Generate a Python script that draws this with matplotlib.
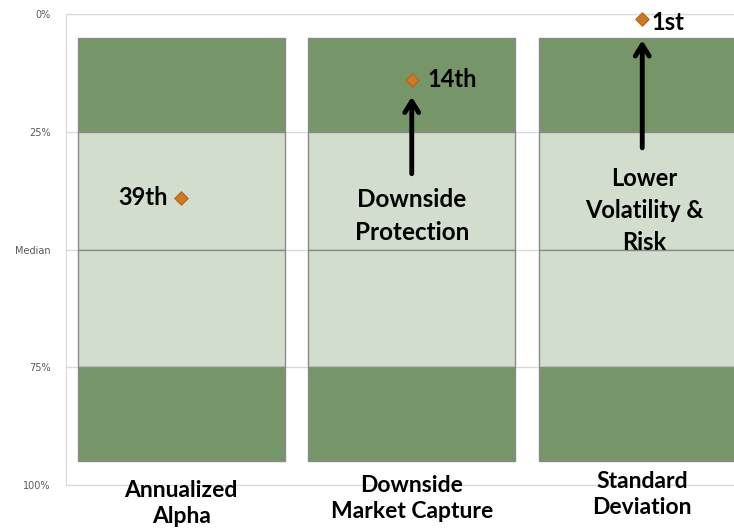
import matplotlib.pyplot as plt
import numpy as np

# data
categories = ["Annualized\nAlpha", "Downside\nMarket Capture", "Standard\nDeviation"]
band_edges = [5, 25, 50, 75, 95]          # percentile band boundaries
band_colors = ["#76966a", "#d2ddcd", "#d2ddcd", "#76966a"]
rank_values = [39, 14, 1]
rank_labels = ["39th", "14th", "1st"]
tick_pos = [0, 25, 50, 75, 100]
tick_labels = ["0%", "25%", "Median", "75%", "100%"]

plt.rcParams['font.family'] = ['Lato', 'DejaVu Sans']

fig = plt.figure(figsize=(7.34, 5.28), dpi=100)
ax = fig.add_axes([66 / 734, 43 / 528, 691.5 / 734, 471 / 528])

x = np.arange(len(categories))
for i in range(len(band_edges) - 1):
    ax.bar(x, band_edges[i + 1] - band_edges[i], bottom=band_edges[i], width=0.9,
           color=band_colors[i], edgecolor="#8a8a8a", linewidth=1, zorder=2)

ax.set_xlim(-0.5, 2.5)
ax.set_ylim(100, 0)
ax.set_yticks(tick_pos)
ax.set_yticklabels(tick_labels, fontsize=7, color="#595959", family="DejaVu Sans")
ax.tick_params(axis="y", length=0, pad=11)
ax.set_xticks([])
ax.yaxis.grid(True, color="#d9d9d9", linewidth=1, zorder=0)
for s in ["left", "top"]:
    ax.spines[s].set_color("#d9d9d9")
ax.spines["right"].set_visible(False)
ax.spines["bottom"].set_color("#d9d9d9")

# markers
ax.scatter(x, rank_values, marker="D", s=45, color="#c97b2a", edgecolor="#b86a20",
           zorder=5, clip_on=False)
ax.text(x[0] - 0.06, rank_values[0], rank_labels[0], ha="right", va="center",
        fontsize=17, fontweight="bold")
ax.text(x[1] + 0.07, rank_values[1], rank_labels[1], ha="left", va="center",
        fontsize=17, fontweight="bold")
ax.text(x[2] + 0.04, rank_values[2] + 0.8, rank_labels[2], ha="left", va="center",
        fontsize=17, fontweight="bold")

# arrows
arrow = dict(arrowstyle="->,head_length=0.8,head_width=0.5", lw=3.5, color="black")
ax.annotate("", xy=(1, 17), xytext=(1, 34.5), arrowprops=arrow, zorder=6)
ax.annotate("", xy=(2, 5.0), xytext=(2, 29), arrowprops=arrow, zorder=6)
ax.text(1, 42.9, "Downside\nProtection", ha="center", va="center", fontsize=17.5,
        fontweight="bold", linespacing=1.5)
ax.text(2.01, 41.7, "Lower\nVolatility &\nRisk", ha="center", va="center",
        fontsize=17, fontweight="bold", linespacing=1.48)

# category labels (tops, in %)
label_tops = [98.9, 97.9, 97.0]
for xi, lab, yt in zip(x, categories, label_tops):
    ax.text(xi, yt, lab, ha="center", va="top", fontsize=16.5, fontweight="bold",
            linespacing=1.3, clip_on=False)

fig.savefig("out.png", dpi=100)
